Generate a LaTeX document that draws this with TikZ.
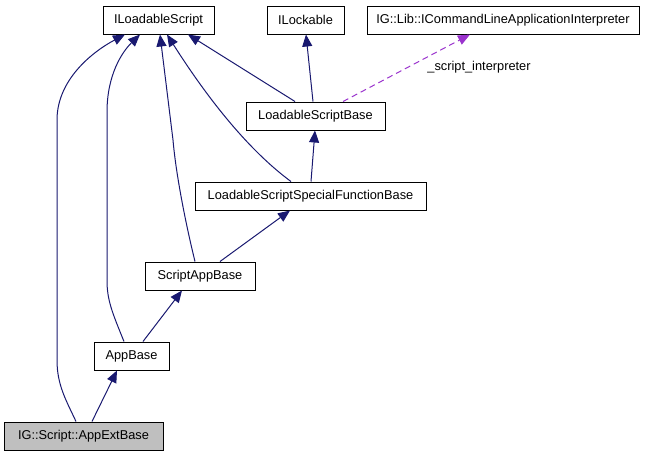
\documentclass[tikz,border=0pt]{standalone}
\usepackage{fontspec}
\setmainfont{Liberation Sans}
\usetikzlibrary{arrows.meta}
\definecolor{edgeblue}{HTML}{191970}
\definecolor{edgepurple}{HTML}{9A32CD}
\definecolor{hlgray}{HTML}{BFBFBF}
\begin{document}
\begin{tikzpicture}[x=1pt,y=-1pt,
  cls/.style={draw=black,line width=1pt,fill=white,inner sep=0pt,minimum height=28pt,font=\fontsize{12.8}{14}\selectfont},
  inh/.style={draw=edgeblue,line width=1pt,-{Triangle[length=12pt,width=10pt]}},
  use/.style={draw=edgepurple,line width=1pt,dash pattern=on 6pt off 4pt,-{Triangle[length=12pt,width=10pt]}}]
\useasboundingbox (0,0) rectangle (648,456);
\node[cls,minimum width=111pt] (ils) at (158.5,20) {ILoadableScript};
\node[cls,minimum width=77pt] (ilk) at (305.5,20) {ILockable};
\node[cls,minimum width=272pt] (icl) at (503,20) {IG::Lib::ICommandLineApplicationInterpreter};
\node[cls,minimum width=139pt] (lsb) at (315.5,116) {LoadableScriptBase};
\node[cls,minimum width=231pt] (lssfb) at (310.5,196) {LoadableScriptSpecialFunctionBase};
\node[cls,minimum width=110pt] (sab) at (200,276) {ScriptAppBase};
\node[cls,minimum width=75pt] (ab) at (131.5,356) {AppBase};
\node[cls,minimum width=159pt,fill=hlgray] (ext) at (83.5,436) {IG::Script::AppExtBase};
% inheritance edges
\draw[inh] (ext.north -| 76,0) .. controls (66,400) and (57,385) .. (57,360) -- (57,120) .. controls (57,80) and (92,52) .. (ils.south -| 125,0);
\draw[inh] (ext.north -| 92,0) -- (ab.south -| 117,0);
\draw[inh] (ab.north -| 124,0) .. controls (112,312) and (107,300) .. (107,280) -- (107,112) .. controls (107,75) and (122,52) .. (ils.south -| 140,0);
\draw[inh] (ab.north -| 143,0) -- (sab.south -| 182,0);
\draw[inh] (sab.north -| 195,0) .. controls (186,225) and (176,175) .. (173,140) -- (ils.south -| 160,0);
\draw[inh] (sab.north -| 220,0) -- (lssfb.south -| 290,0);
\draw[inh] (lssfb.north -| 291,0) .. controls (255,155) and (215,110) .. (ils.south -| 167,0);
\draw[inh] (lssfb.north -| 311,0) -- (lsb.south -| 315,0);
\draw[inh] (lsb.north -| 295,0) -- (ils.south -| 188,0);
\draw[inh] (lsb.north -| 313,0) -- (ilk.south -| 306,0);
\draw[use] (lsb.north -| 343,0) -- (icl.south -| 470,0);
\node[font=\fontsize{12.8}{14}\selectfont,inner sep=0pt] (lbl) at (479,67) {\_script\_interpreter};
\end{tikzpicture}
\end{document}
